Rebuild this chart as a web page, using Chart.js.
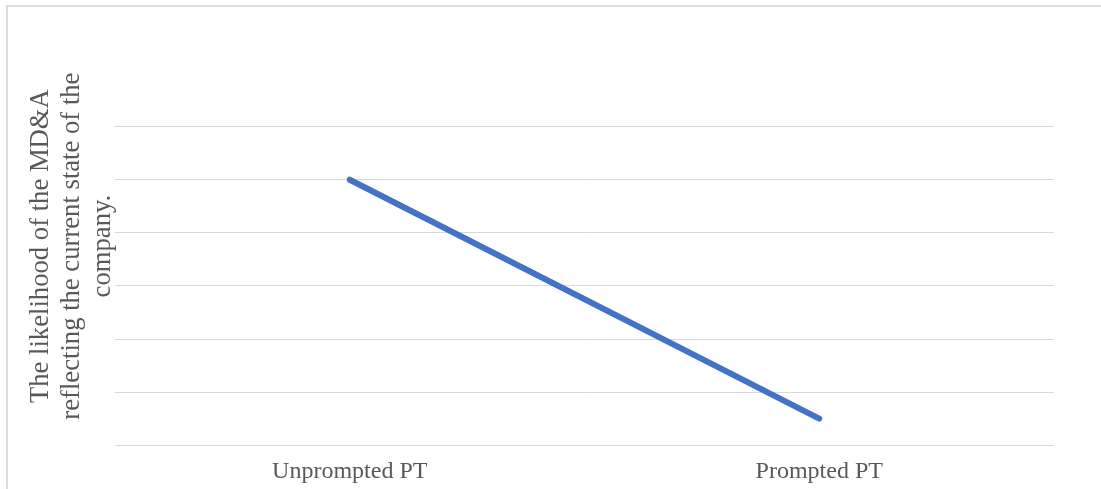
<!DOCTYPE html>
<html>
<head>
<meta charset="utf-8">
<script src="https://cdn.jsdelivr.net/npm/chart.js@4.4.1/dist/chart.umd.min.js"></script>
<style>
  html, body { margin: 0; padding: 0; background: #ffffff; overflow: hidden; }
  #wrap { position: relative; width: 1101px; height: 489px; }
  #frame {
    position: absolute; left: 6px; top: 5px; width: 1200px; height: 600px;
    border-left: 2px solid #dcdcdc; border-top: 2px solid #dcdcdc;
    box-sizing: border-box; pointer-events: none;
  }
  canvas { position: absolute; left: 0; top: 0; }
</style>
</head>
<body>
<div id="wrap">
  <canvas id="chart" width="1101" height="489"></canvas>
  <div id="frame"></div>
</div>
<script>
// Chart data
const categories = ['Unprompted PT', 'Prompted PT'];
const likelihood = [5, 0.5];
const gridValues = [0, 1, 2, 3, 4, 5, 6];
const yTitleLines = ['The likelihood of the MD&A', 'reflecting the current state of the', 'company.'];

const textColor = '#595959';
const serif = "'Liberation Serif', 'Times New Roman', serif";

new Chart(document.getElementById('chart'), {
  type: 'line',
  data: {
    labels: categories,
    datasets: [{
      data: likelihood,
      borderColor: '#4472C4',
      borderWidth: 6,
      borderCapStyle: 'round',
      borderJoinStyle: 'round',
      pointRadius: 0,
      pointHoverRadius: 0,
      fill: false,
      tension: 0
    }]
  },
  options: {
    responsive: false,
    animation: false,
    events: [],
    layout: { padding: { left: 0, right: 47, top: 47, bottom: -9 } },
    plugins: {
      legend: { display: false },
      tooltip: { enabled: false },
      title: { display: false }
    },
    scales: {
      x: {
        type: 'category',
        offset: true,
        grid: { display: false, drawTicks: false },
        border: { display: false },
        ticks: {
          color: textColor,
          padding: 12,
          font: { family: serif, size: 24, lineHeight: 1.2 }
        }
      },
      y: {
        min: 0,
        max: 7.5,
        afterBuildTicks: (scale) => {
          scale.ticks = gridValues.map(v => ({ value: v }));
        },
        grid: { color: '#d9d9d9', lineWidth: 1, drawTicks: false },
        border: { display: false },
        ticks: { display: false },
        title: {
          display: true,
          text: yTitleLines,
          color: textColor,
          padding: { top: 26, bottom: -3 },
          font: { family: serif, size: 26.67, lineHeight: 1.15 }
        }
      }
    }
  }
});
</script>
</body>
</html>
